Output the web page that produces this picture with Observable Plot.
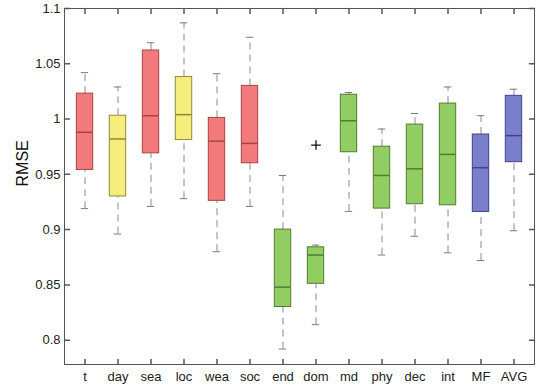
<!DOCTYPE html>
<html>
<head>
<meta charset="utf-8">
<script src="https://cdn.jsdelivr.net/npm/d3@7"></script>
<script src="https://cdn.jsdelivr.net/npm/@observablehq/plot@0.6"></script>
<style>
  html, body { margin: 0; padding: 0; background: #fff; }
  svg { display: block; }
</style>
</head>
<body>
<div id="chart"></div>
<script>
const categories = ["t","day","sea","loc","wea","soc","end","dom","md","phy","dec","int","MF","AVG"];
const groups     = ["red","yellow","red","yellow","red","red","green","green","green","green","green","green","blue","blue"];
const whiskerLow = [0.919,0.896,0.921,0.928,0.880,0.921,0.792,0.814,0.9165,0.877,0.894,0.879,0.872,0.899];
const q1         = [0.954,0.930,0.969,0.981,0.926,0.960,0.830,0.851,0.970,0.919,0.923,0.922,0.916,0.961];
const medians    = [0.988,0.982,1.003,1.004,0.980,0.978,0.848,0.877,0.9985,0.949,0.955,0.968,0.956,0.985];
const q3         = [1.023,1.003,1.062,1.038,1.001,1.030,0.900,0.884,1.022,0.975,0.995,1.014,0.986,1.021];
const whiskerHigh= [1.042,1.029,1.069,1.087,1.041,1.074,0.949,0.886,1.024,0.991,1.005,1.029,1.003,1.027];
const outlierCats = ["dom"];
const outlierVals = [0.9765];
const yTicks = [0.8,0.85,0.9,0.95,1,1.05,1.1];
const yTickLabels = ["0.8","0.85","0.9","0.95","1","1.05","1.1"];
const yLabel = ["RMSE"];

const fills   = {red: "#f27a7a", yellow: "#f6ee7c", green: "#92cd62", blue: "#7b7fc9"};
const strokes = {red: "#a84444", yellow: "#8f8a3a", green: "#4f7d34", blue: "#3d4294"};

const rows = categories.map((c, i) => ({
  cat: c, g: groups[i], lo: whiskerLow[i], q1: q1[i], med: medians[i], q3: q3[i], hi: whiskerHigh[i]
}));
const outliers = outlierCats.map((c, i) => ({cat: c, v: outlierVals[i]}));

const tickShape = {draw(ctx, l) { ctx.moveTo(0, 0); ctx.lineTo(0, -l); }};
const boxInset = 8.3;
const capInset = 12.8;

const chart = Plot.plot({
  width: 541,
  height: 385,
  marginLeft: 64,
  marginRight: 7,
  marginTop: 8,
  marginBottom: 21,
  style: {fontFamily: "'Liberation Sans', Arial, sans-serif", fontSize: "13px", color: "#222", background: "#fff"},
  x: {type: "band", domain: categories, padding: 0, label: null},
  y: {domain: [0.778, 1.1], label: null},
  marks: [
    // whiskers
    Plot.ruleX(rows, {x: "cat", y1: "q3", y2: "hi", stroke: "#8a8a8a", strokeDasharray: "7,5"}),
    Plot.ruleX(rows, {x: "cat", y1: "lo", y2: "q1", stroke: "#8a8a8a", strokeDasharray: "7,5"}),
    Plot.tickY(rows, {x: "cat", y: "hi", stroke: "#7a7a7a", insetLeft: capInset, insetRight: capInset}),
    Plot.tickY(rows, {x: "cat", y: "lo", stroke: "#7a7a7a", insetLeft: capInset, insetRight: capInset}),
    // boxes
    Plot.barY(rows, {x: "cat", y1: "q1", y2: "q3", fill: d => fills[d.g], stroke: d => strokes[d.g], strokeWidth: 1, insetLeft: boxInset, insetRight: boxInset}),
    Plot.tickY(rows, {x: "cat", y: "med", stroke: d => strokes[d.g], strokeWidth: 1.5, insetLeft: boxInset, insetRight: boxInset}),
    // outliers
    Plot.dot(outliers, {x: "cat", y: "v", symbol: "plus", r: 3.2, stroke: "#111", strokeWidth: 1.3}),
    // frame
    Plot.frame({stroke: "#555"}),
    // inward ticks
    Plot.vector(categories, {x: d => d, frameAnchor: "bottom", length: 5, rotate: 0, anchor: "start", shape: tickShape, stroke: "#555"}),
    Plot.vector(categories, {x: d => d, frameAnchor: "top", length: 5, rotate: 180, anchor: "start", shape: tickShape, stroke: "#555"}),
    Plot.vector(yTicks, {y: d => d, frameAnchor: "left", length: 5, rotate: 90, anchor: "start", shape: tickShape, stroke: "#555"}),
    Plot.vector(yTicks, {y: d => d, frameAnchor: "right", length: 5, rotate: -90, anchor: "start", shape: tickShape, stroke: "#555"}),
    // axes labels
    Plot.axisX({tickSize: 0, tickPadding: 7, label: null, fontSize: 13}),
    Plot.axisY(yTicks, {tickSize: 0, tickPadding: 4, label: null, tickFormat: (d, i) => yTickLabels[yTicks.indexOf(d)], fontSize: 13}),
    Plot.text(yLabel, {frameAnchor: "left", rotate: -90, dx: -42, fontSize: 16, fill: "#111", text: d => d})
  ]
});
document.getElementById("chart").appendChild(chart);
</script>
</body>
</html>
